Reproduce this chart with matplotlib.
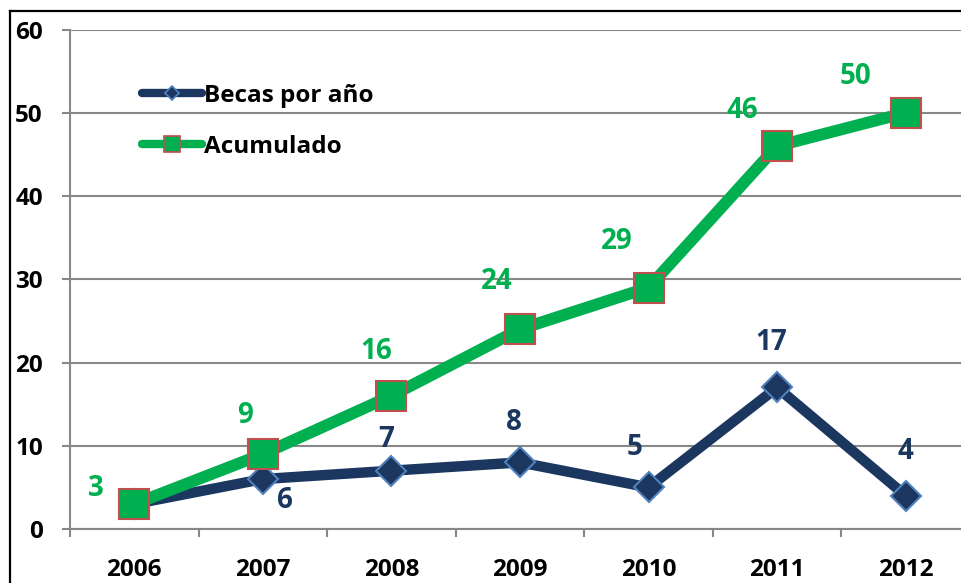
import matplotlib
matplotlib.use("Agg")
import matplotlib.pyplot as plt
from matplotlib.lines import Line2D

plt.rcParams['font.family'] = ['Open Sans', 'DejaVu Sans']
plt.rcParams['font.weight'] = 'bold'

years = ['2006', '2007', '2008', '2009', '2010', '2011', '2012']
becas = [3, 6, 7, 8, 5, 17, 4]
acumulado = [3, 9, 16, 24, 29, 46, 50]
yticks = [0, 10, 20, 30, 40, 50, 60]
series_names = ['Becas por año', 'Acumulado']

# label offsets in pixels (style only)
acum_off = [(-38, 16), (-18, 39), (-15, 44), (-23, 48), (-32, 46), (-35, 36), (-50, 36)]
becas_off = [None, (22, -21), (-5, 31), (-6, 40), (-14, 40), (-6, 45), (0, 44)]

NAVY = '#1B365F'
NAVY_EDGE = '#4F81BD'
GREEN = '#00B050'
RED_EDGE = '#C0504D'
GRID = '#888888'

W, H = 961, 583
PX = 72 / 100  # points per pixel
fig = plt.figure(figsize=(W / 100, H / 100), dpi=100)
ax = fig.add_axes([70 / W, 1 - 529 / H, 900 / W, (529 - 29.5) / H])

x = list(range(len(years)))
ax.plot(x, becas, color=NAVY, lw=7.5, marker='D', ms=15, mfc=NAVY, mec=NAVY_EDGE,
        mew=1.5, solid_joinstyle='round', zorder=3)
ax.plot(x, acumulado, color=GREEN, lw=8.5, marker='s', ms=21, mfc=GREEN, mec=RED_EDGE,
        mew=1.5, solid_joinstyle='round', zorder=4)

for i, v in enumerate(acumulado):
    dx, dy = acum_off[i]
    ax.annotate(str(v), (i, v), xytext=(dx, dy), textcoords='offset pixels',
                ha='center', va='center', color=GREEN, fontsize=20, fontweight='bold', zorder=5)
for i, v in enumerate(becas):
    if becas_off[i] is None:
        continue
    dx, dy = becas_off[i]
    ax.annotate(str(v), (i, v), xytext=(dx, dy), textcoords='offset pixels',
                ha='center', va='center', color=NAVY, fontsize=20, fontweight='bold', zorder=5)

ax.set_xlim(-0.5, len(years) - 0.5)
ax.set_ylim(0, 60)
ax.set_yticks(yticks)
ax.set_yticklabels([str(t) for t in yticks])
ax.yaxis.grid(True, color=GRID, lw=1.5, zorder=0)
ax.set_axisbelow(True)

ax.set_xticks([i - 0.5 for i in range(len(years) + 1)])
ax.set_xticklabels([])
ax.set_xticks(x, minor=True)
ax.set_xticklabels(years, minor=True)
ax.tick_params(axis='x', which='major', length=8 * PX, width=1.5, color=GRID, direction='out')
ax.tick_params(axis='x', which='minor', length=0, pad=29 * PX, labelsize=17.5)
ax.tick_params(axis='y', length=8 * PX, width=1.5, color=GRID, direction='out',
               pad=19 * PX, labelsize=17.5)
for lab in ax.get_xticklabels(minor=True) + ax.get_yticklabels():
    lab.set_fontweight('bold')

for s in ['top', 'right']:
    ax.spines[s].set_visible(False)
for s in ['left', 'bottom']:
    ax.spines[s].set_color(GRID)
    ax.spines[s].set_linewidth(1.5)

h1 = Line2D([], [], color=NAVY, lw=6, marker='D', ms=7, mfc=NAVY, mec=NAVY_EDGE, mew=1.2,
            solid_capstyle='round')
h2 = Line2D([], [], color=GREEN, lw=6, marker='s', ms=11, mfc=GREEN, mec=RED_EDGE, mew=1.2,
            solid_capstyle='round')
leg = fig.legend([h1, h2], series_names, loc='upper left',
                 bbox_to_anchor=(142 / W, 1 - 84 / H), bbox_transform=fig.transFigure,
                 frameon=False, borderpad=0, borderaxespad=0, handlelength=2.45,
                 handletextpad=0.12, labelspacing=1.1,
                 prop={'size': 17.5, 'weight': 'bold'})

# outer frame (left and top edges)
fig.add_artist(Line2D([10 / W, 10 / W], [0, 1 - 11 / H], color='black', lw=1.6,
                      transform=fig.transFigure))
fig.add_artist(Line2D([10 / W, 1], [1 - 11 / H, 1 - 11 / H], color='black', lw=1.6,
                      transform=fig.transFigure))

fig.savefig('out.png', dpi=100)
